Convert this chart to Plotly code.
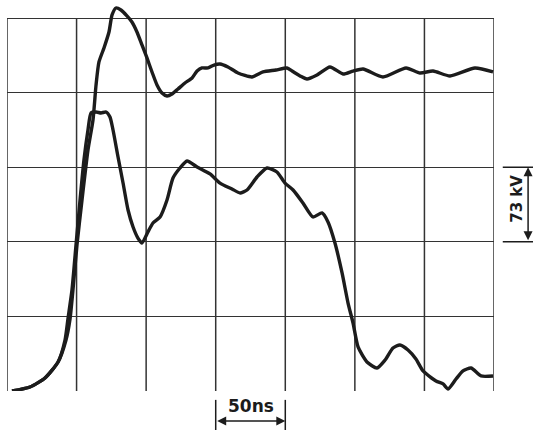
import plotly.graph_objects as go

# time in ns, voltage in kV (50 ns / div, 73 kV / div)
upper_t = [3.6, 16.5, 27.3, 36.7, 42.4, 45.3, 47.4, 50.3, 53.9, 58.2, 61.8, 64.0, 66.1, 69.7, 73.3,
           75.5, 78.3, 81.9, 86.2, 89.8, 93.4, 97.0, 100.6, 104.2, 107.8, 111.4, 115.0, 118.6, 122.9,
           127.9, 133.0, 136.6, 140.1, 144.5, 148.8, 153.1, 158.8, 166.0, 176.1, 184.0, 193.3, 201.2,
           204.9, 210.6, 215.6, 222.8, 232.1, 241.5, 248.7, 255.9, 270.2, 286.8, 296.8, 306.2, 318.4,
           336.3, 349.3]
upper_v = [0, 3.9, 12.7, 28.4, 49.9, 70.5, 98.8, 142.9, 186.9, 235.8, 265.2, 299.5, 322.0, 335.7, 351.3,
           368.0, 374.8, 372.8, 367.0, 361.1, 351.3, 338.6, 325.9, 312.2, 299.5, 291.6, 288.7, 290.7, 295.5,
           301.4, 306.3, 313.1, 316.1, 316.1, 319.0, 320.0, 317.1, 311.2, 307.3, 312.2, 314.1, 316.1,
           313.1, 308.3, 305.3, 309.2, 317.1, 310.2, 313.1, 315.1, 307.3, 316.1, 311.2, 313.1, 308.3,
           316.1, 312.2]

lower_t = [3.6, 16.5, 27.3, 36.7, 41.7, 43.8, 46.7, 49.6, 52.5, 55.3, 58.2, 60.4, 64.0, 67.6, 71.2,
           74.0, 76.2, 79.8, 83.4, 87.0, 90.6, 94.1, 97.0, 101.3, 104.9, 110.0, 115.0, 119.3, 124.3,
           129.4, 136.6, 145.9, 153.1, 161.7, 167.5, 172.5, 179.7, 186.9, 194.0, 199.8, 205.6, 212.7,
           219.9, 226.4, 230.7, 235.7, 240.8, 245.1, 248.7, 252.3, 258.7, 265.9, 271.7, 277.4, 282.4,
           288.2, 293.9, 299.0, 308.3, 313.4, 317.0, 322.7, 327.7, 333.5, 340.7, 349.3]
lower_v = [0, 3.9, 12.7, 28.4, 49.9, 70.5, 98.8, 142.9, 186.9, 226.1, 255.4, 272.1, 273.0, 272.1, 273.0,
           268.1, 255.4, 229.0, 203.5, 177.1, 160.5, 149.7, 144.8, 155.6, 164.4, 170.3, 186.9, 208.4, 218.2,
           225.1, 219.2, 212.4, 203.5, 197.7, 193.8, 196.7, 209.4, 218.2, 214.3, 203.5, 196.7, 184.0,
           170.3, 174.2, 165.4, 144.8, 115.5, 86.1, 66.5, 43.1, 28.4, 22.5, 30.3, 42.1, 45.0,
           40.1, 31.3, 19.6, 9.8, 6.9, 2.0, 11.7, 19.6, 22.5, 14.7, 14.7]

time_label = "50ns"
volt_label = "73 kV"

T_DIV, V_DIV = 50, 73
T_MAX, V_MAX = 350, 365

ink = "#1c1c1c"
grid = "#333333"
fig = go.Figure()
for t, v in [(upper_t, upper_v), (lower_t, lower_v)]:
    fig.add_trace(go.Scatter(x=t, y=v, mode="lines", cliponaxis=False,
                             line=dict(color=ink, width=3.4, shape="spline", smoothing=0.6),
                             showlegend=False, hoverinfo="skip"))

# y range extends a bit above the graticule so the overshoot peak is not clipped
fig.update_xaxes(range=[0, T_MAX], showgrid=False, showline=False, showticklabels=False, ticks="",
                 zeroline=False, fixedrange=True)
fig.update_yaxes(range=[0, V_MAX * 386 / 373], dtick=V_DIV, tick0=0, showgrid=True, gridcolor=grid, gridwidth=1.4,
                 showline=False, showticklabels=False, ticks="", zeroline=False, fixedrange=True)

shapes = []
# vertical graticule lines (stop at the top division)
for k in range(T_MAX // T_DIV + 1):
    shapes.append(dict(type="line", xref="x", yref="y", x0=k * T_DIV, x1=k * T_DIV, y0=0, y1=V_MAX,
                       layer="below", line=dict(color=grid, width=1.5)))
# 50 ns scale bar ticks
for xv in (150, 200):
    shapes.append(dict(type="line", xref="x", yref="paper", x0=xv, x1=xv, y0=-0.023, y1=-0.101,
                       line=dict(color=ink, width=1.5)))
# 73 kV scale bar ticks
for yv in (2 * V_DIV, 3 * V_DIV):
    shapes.append(dict(type="line", xref="paper", yref="y", x0=1.018, x1=1.085, y0=yv, y1=yv,
                       line=dict(color=ink, width=1.5)))
fig.update_layout(shapes=shapes)

fig.add_annotation(x=200, y=-0.0777, xref="x", yref="paper", ax=150, ay=0, axref="x", ayref="pixel",
                   text="", showarrow=True, arrowhead=2, arrowside="end+start", arrowsize=1.2,
                   arrowwidth=1.5, arrowcolor=ink, standoff=0, startstandoff=0)
fig.add_annotation(x=1.07, y=3 * V_DIV, xref="paper", yref="y", ax=0, ay=2 * V_DIV, axref="pixel", ayref="y",
                   text="", showarrow=True, arrowhead=2, arrowside="end+start", arrowsize=1.2,
                   arrowwidth=1.5, arrowcolor=ink, standoff=0, startstandoff=0)
fig.add_annotation(x=175, y=-0.039, xref="x", yref="paper", xanchor="center", yanchor="middle",
                   text="<b>" + time_label + "</b>", showarrow=False,
                   font=dict(family="DejaVu Sans", size=17, color=ink))
fig.add_annotation(x=1.047, y=188, xref="paper", yref="y", xanchor="center", yanchor="middle",
                   text="<b>" + volt_label + "</b>", showarrow=False,
                   textangle=-90, font=dict(family="DejaVu Sans", size=15, color=ink))

fig.update_layout(width=533, height=432, margin=dict(l=7, r=39, t=5, b=41),
                  paper_bgcolor="white", plot_bgcolor="white")
fig.write_html("out.html")
